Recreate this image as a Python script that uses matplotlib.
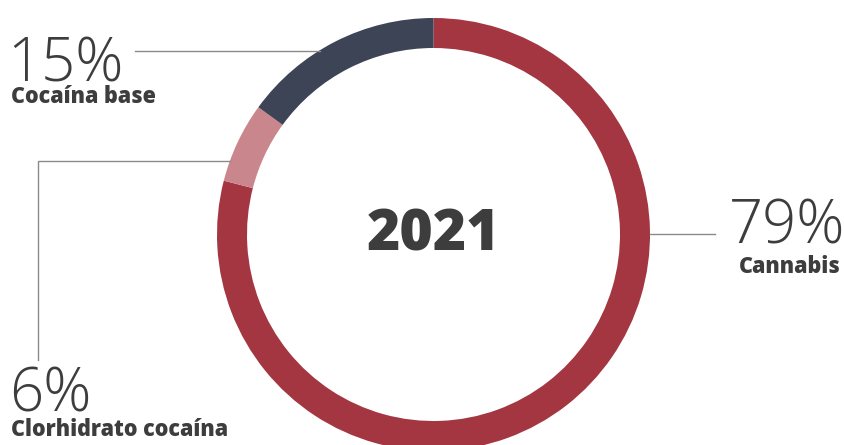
import matplotlib
matplotlib.use("Agg")
import matplotlib.pyplot as plt

# data
labels = ["Cannabis", "Clorhidrato cocaína", "Cocaína base"]
shares = [79, 6, 15]
colors = ["#A33641", "#C9868C", "#3C4455"]
year = "2021"

W, H = 845, 445
fig = plt.figure(figsize=(W / 100, H / 100), dpi=100)
ax = fig.add_axes([0, 0, 1, 1])

cx, cy, r = 433.5, H - 234.5, 216.5
ax.pie(shares, colors=colors, startangle=90, counterclock=False,
       center=(cx, cy), radius=r, frame=True,
       wedgeprops=dict(width=30, linewidth=0))
ax.set_xlim(0, W)
ax.set_ylim(0, H)
ax.set_aspect("equal")
ax.axis("off")

txt = "#3d3d3d"
lc = "#8a8a8a"
thin = dict(family=["Open Sans", "DejaVu Sans"], weight="light", color=txt)
heavy = dict(family=["Open Sans", "DejaVu Sans"], weight="heavy", color=txt)

# centre year
ax.text(cx, H - 236, year, ha="center", va="center", fontsize=41, **heavy)

# leader lines
ax.plot([135, 320], [H - 51, H - 51], color=lc, lw=1)
ax.plot([230, 38, 38], [H - 161, H - 161, H - 360], color=lc, lw=1)
ax.plot([650, 715], [H - 234, H - 234], color=lc, lw=1)

# labels
ax.text(7, H - 82, f"{shares[2]}%", ha="left", va="baseline", fontsize=43, **thin)
ax.text(11, H - 103, labels[2], ha="left", va="baseline", fontsize=15.5, **heavy)

ax.text(9, H - 412, f"{shares[1]}%", ha="left", va="baseline", fontsize=43, **thin)
ax.text(11, H - 436, labels[1], ha="left", va="baseline", fontsize=15.5, **heavy)

ax.text(845, H - 243, f"{shares[0]}%", ha="right", va="baseline", fontsize=43, **thin)
ax.text(841, H - 273, labels[0], ha="right", va="baseline", fontsize=15.5, **heavy)

fig.savefig("out.png", dpi=100)
